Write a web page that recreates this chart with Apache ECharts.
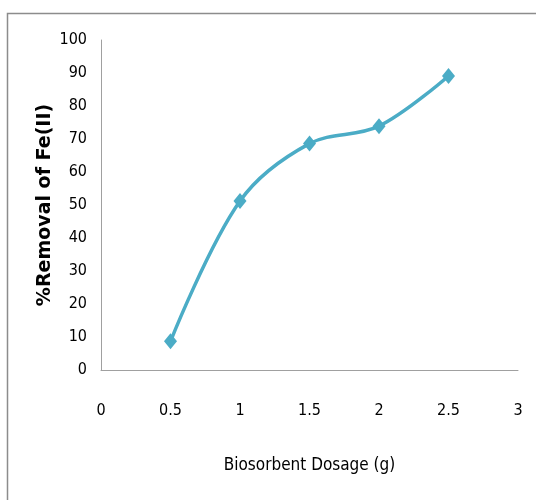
<!DOCTYPE html>
<html><head><meta charset="utf-8">
<script src="https://cdn.jsdelivr.net/npm/echarts@6/dist/echarts.min.js"></script>
<style>html,body{margin:0;padding:0;background:#fff}#c{width:536px;height:500px}</style>
</head><body><div id="c"></div>
<script>
var dosage = [0.5, 1, 1.5, 2, 2.5];
var removal = [8.7, 51.2, 68.6, 73.9, 89.1];
var xTitle = 'Biosorbent Dosage (g)';
var yTitle = '%Removal of Fe(II)';
var narrow = '"DejaVu Sans Condensed","Liberation Sans Narrow",sans-serif';
var chart = echarts.init(document.getElementById('c'), null, {renderer:'canvas'});
chart.setOption({
  animation:false,
  backgroundColor:'#fff',
  graphic:[{type:'rect', shape:{x:7.5,y:13.5,width:540,height:500}, style:{fill:'none', stroke:'#8c8c8c', lineWidth:1.5}, z:-1}],
  grid:{left:101, right:18, top:40, bottom:130},
  xAxis:{type:'value', min:0, max:3, interval:0.5,
    axisLine:{show:true, lineStyle:{color:'#a0a0a0', width:1}},
    axisTick:{show:false}, splitLine:{show:false},
    axisLabel:{color:'#000', fontFamily:narrow, fontSize:16, margin:33},
    name:xTitle, nameLocation:'middle', nameGap:87, nameMoveOverlap:false,
    nameTextStyle:{color:'#000', fontFamily:narrow, fontSize:17}},
  yAxis:{type:'value', min:0, max:100, interval:10,
    axisLine:{show:true, lineStyle:{color:'#a0a0a0', width:1}},
    axisTick:{show:false}, splitLine:{show:false},
    axisLabel:{color:'#000', fontFamily:narrow, fontSize:16, margin:14},
    name:yTitle, nameLocation:'middle', nameGap:46, nameMoveOverlap:false,
    nameTextStyle:{color:'#000', fontFamily:'"DejaVu Sans",sans-serif', fontSize:19, fontWeight:'bold'}},
  series:[{type:'line', data:dosage.map(function(d,i){return [d, removal[i]];}),
    smooth:0.35, symbol:'diamond', symbolSize:[13,16],
    lineStyle:{color:'#4bacc6', width:3.5},
    itemStyle:{color:'#4bacc6'}}]
});
</script></body></html>
